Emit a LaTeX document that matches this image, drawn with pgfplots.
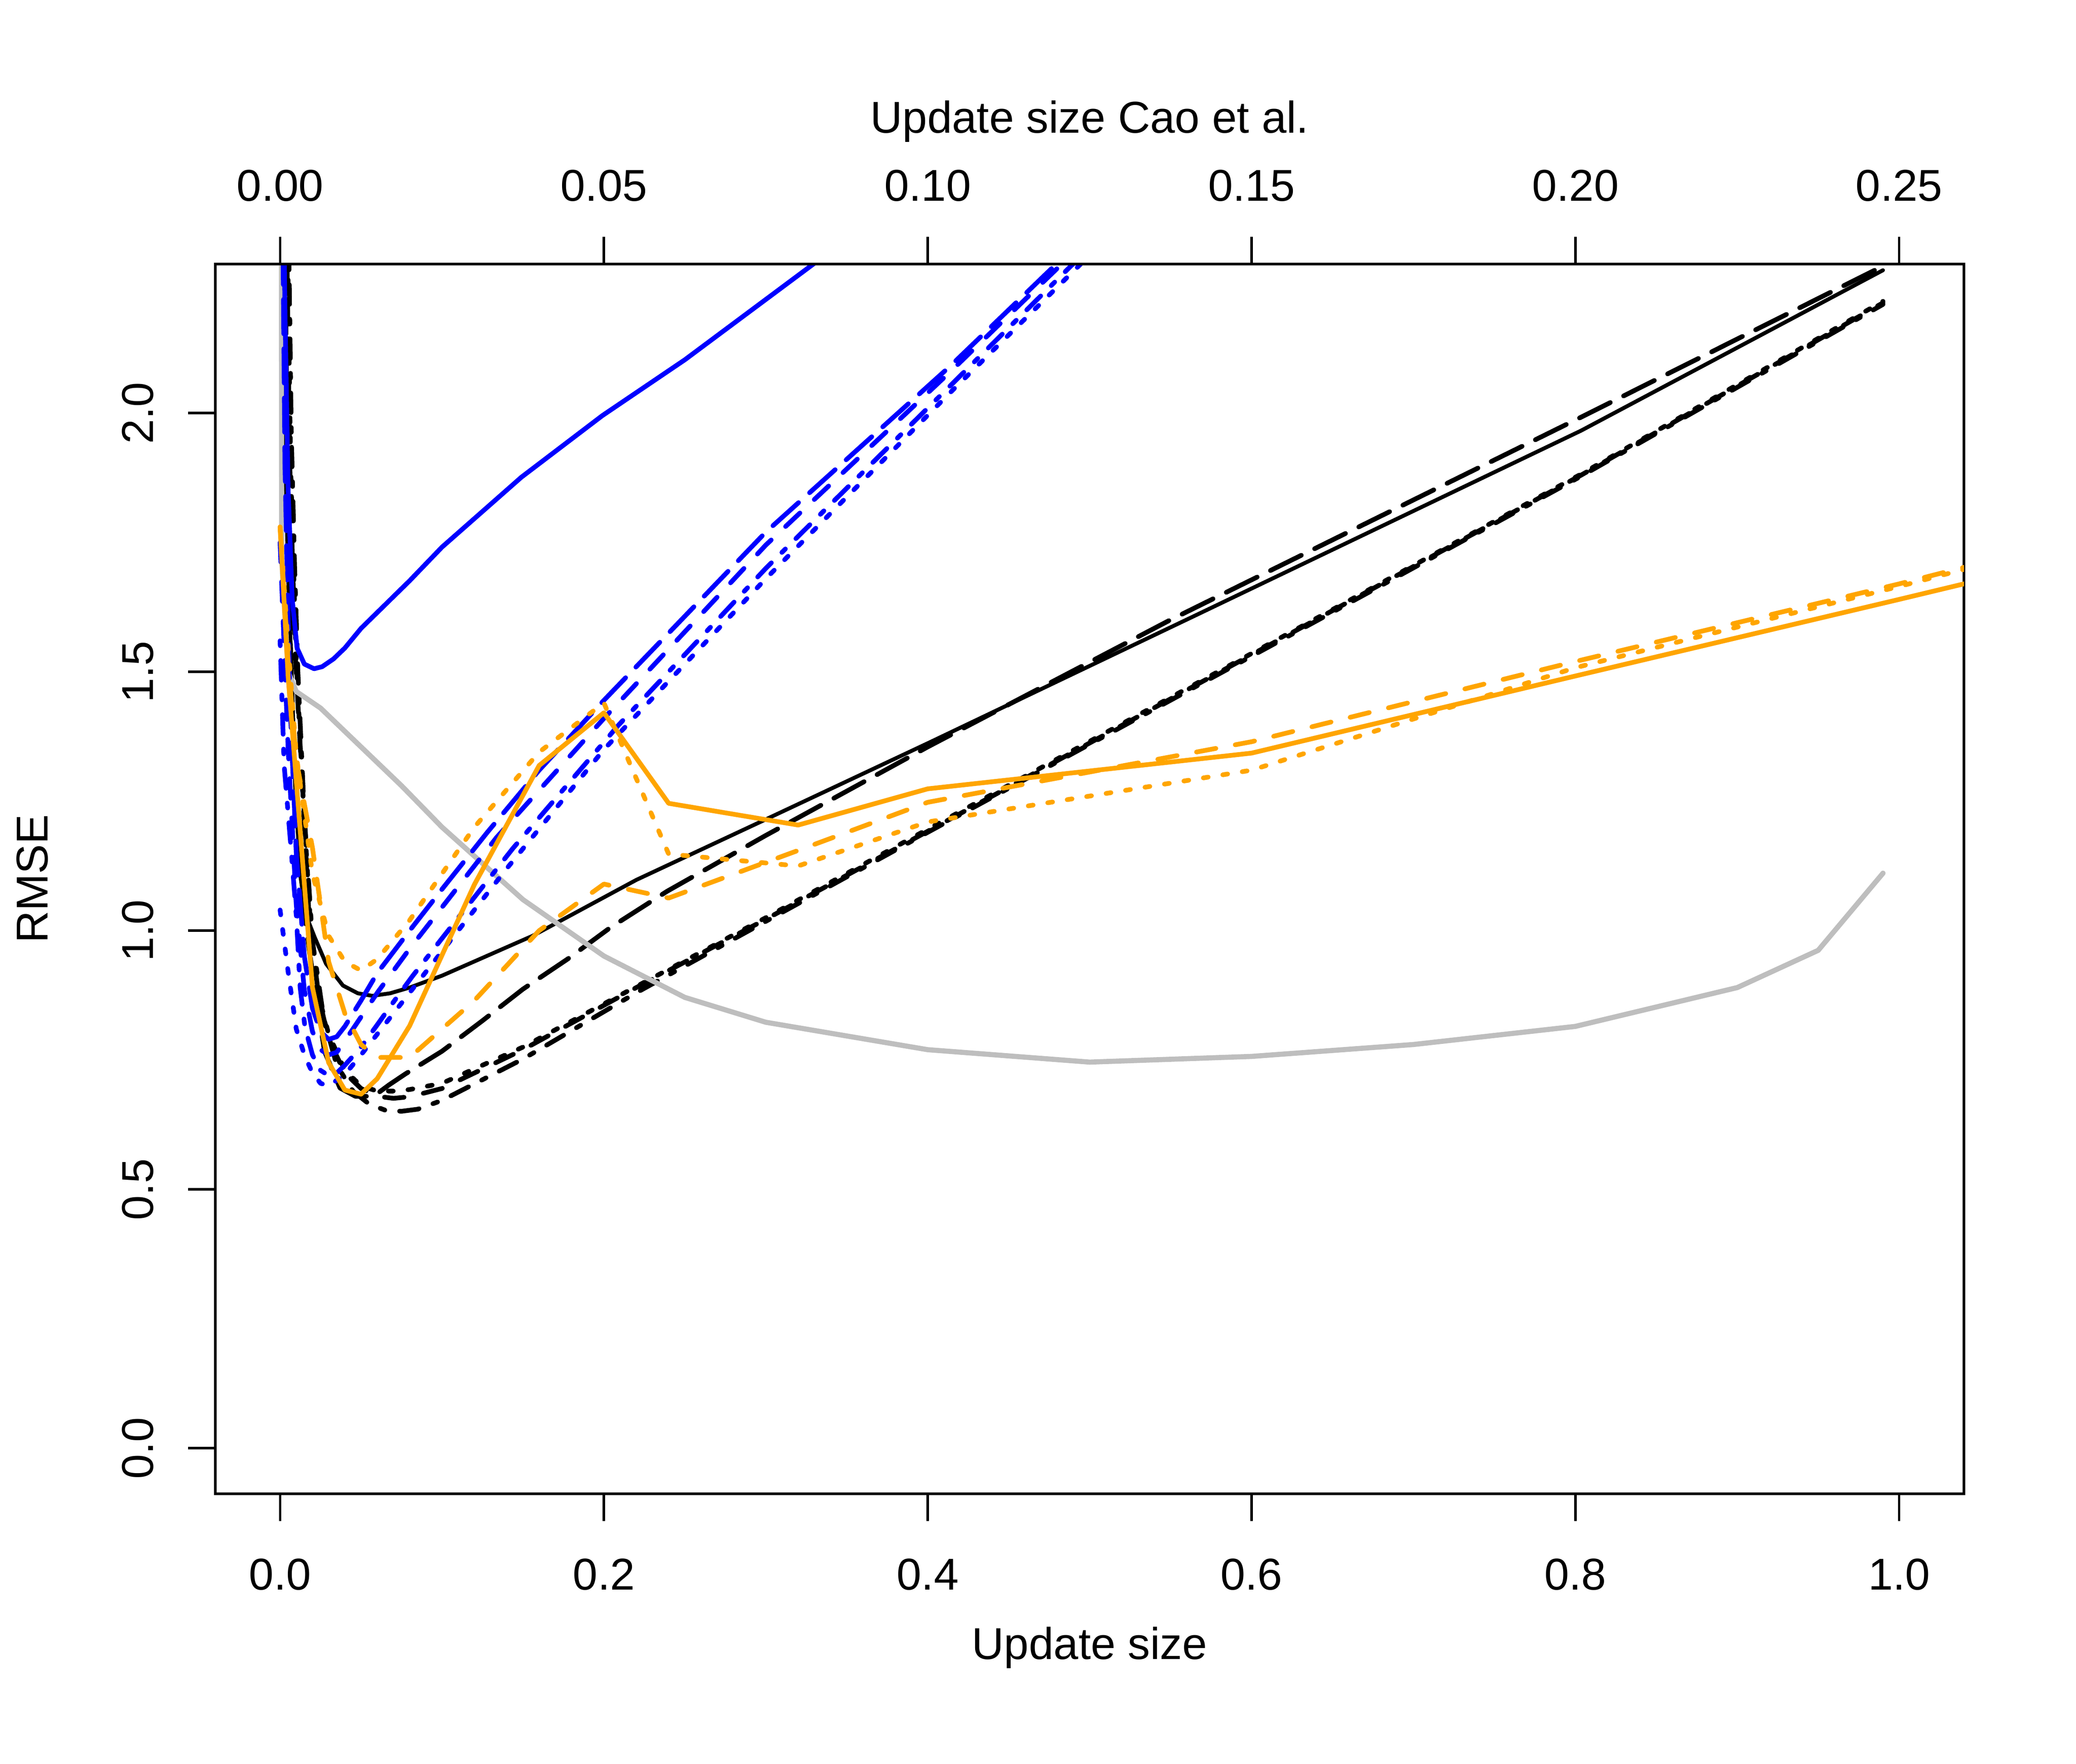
\documentclass[border=0pt]{standalone}
\usepackage{fontspec}
\setmainfont{Liberation Sans}
\usepackage{pgfplots}
\pgfplotsset{compat=1.18}
\definecolor{rorange}{HTML}{FFA500}
\definecolor{rgray}{HTML}{BEBEBE}
\definecolor{rblue}{HTML}{0000FF}
\pgfplotsset{
  lty2/.style={dash pattern=on 4.8pt off 4.8pt},
  lty3/.style={dash pattern=on 1.2pt off 3.6pt},
  lty4/.style={dash pattern=on 1.2pt off 3.6pt on 4.8pt off 3.6pt},
  lty5/.style={dash pattern=on 8.4pt off 3.6pt},
}
\newcommand{\rfont}{\fontsize{10.86}{13}\selectfont}
\begin{document}
\begin{tikzpicture}
\begin{axis}[
  name=main,
  scale only axis, width=426.11pt, height=299.74pt,
  xmin=-0.04, xmax=1.04, ymin=-0.088, ymax=2.288,
  xtick={0,0.2,0.4,0.6,0.8,1}, ytick={0,0.5,1,1.5,2},
  xtick pos=bottom, ytick pos=left,
  tick align=outside, major tick length=6.6pt,
  tick style={line width=0.6pt, black},
  axis line style={line width=0.65pt},
  /pgf/number format/assume math mode=true,
  xticklabel style={font=\rfont, anchor=base, /pgf/number format/.cd, fixed, fixed zerofill, precision=1},
  yticklabel style={font=\rfont, anchor=base, rotate=90, /pgf/number format/.cd, fixed, fixed zerofill, precision=1},
  xticklabel shift=16.8pt, yticklabel shift=8.5pt,
  no markers,
  every axis plot/.append style={line width=1.15pt, line cap=round, line join=round},
]
% black solid
\addplot[black, line width=0.95pt] coordinates {(0.0012,2.6) (0.002,2.29) (0.0033,1.9) (0.005,1.68) (0.0075,1.47) (0.0095,1.26) (0.0128,1.10) (0.016,1.03) (0.0214,0.987) (0.0284,0.936) (0.0388,0.894) (0.048,0.879) (0.057,0.874) (0.068,0.879) (0.08,0.890) (0.1,0.913) (0.156,0.990) (0.22,1.098) (0.3,1.215) (0.4,1.362) (0.566,1.61) (0.8035,1.966) (0.99,2.276)};
% black longdash
\addplot[black, lty5] coordinates {(0.0025,2.6) (0.0035,2.2) (0.005,1.8) (0.0076,1.35) (0.0128,1.091) (0.018,0.962) (0.0274,0.767) (0.037,0.696) (0.0465,0.68) (0.0578,0.68) (0.0673,0.702) (0.0773,0.723) (0.1,0.767) (0.125,0.826) (0.15,0.887) (0.178,0.946) (0.204,1.006) (0.239,1.076) (0.3,1.184) (0.4,1.355) (0.549,1.599) (0.8035,1.992) (0.99,2.284)};
% black dashed
\addplot[black, lty2] coordinates {(0.003,2.6) (0.0043,2.29) (0.006,1.9) (0.008,1.68) (0.0096,1.52) (0.0136,1.29) (0.018,1.02) (0.024,0.87) (0.03,0.79) (0.04,0.725) (0.05,0.695) (0.06,0.68) (0.07,0.676) (0.08,0.679) (0.1,0.695) (0.15,0.77) (0.22,0.89) (0.3,1.022) (0.4,1.192) (0.641,1.603) (0.8035,1.88) (0.99,2.213)};
% black dotted
\addplot[black, lty3] coordinates {(0.0035,2.6) (0.0048,2.29) (0.0065,1.9) (0.0085,1.68) (0.01,1.52) (0.014,1.27) (0.019,1.0) (0.025,0.86) (0.03,0.8) (0.04,0.73) (0.05,0.70) (0.06,0.69) (0.07,0.69) (0.08,0.693) (0.1,0.705) (0.15,0.775) (0.22,0.892) (0.3,1.025) (0.4,1.196) (0.641,1.605) (0.8035,1.882) (0.99,2.216)};
% black dotdash
\addplot[black, lty4] coordinates {(0.004,2.6) (0.0055,2.29) (0.007,1.95) (0.009,1.7) (0.011,1.5) (0.015,1.22) (0.02,0.98) (0.027,0.83) (0.035,0.74) (0.045,0.69) (0.055,0.665) (0.065,0.653) (0.075,0.651) (0.085,0.655) (0.1,0.672) (0.15,0.752) (0.22,0.88) (0.3,1.018) (0.4,1.19) (0.641,1.60) (0.8035,1.878) (0.99,2.21)};
% gray
\addplot[rgray, line width=1.25pt] coordinates {(0,5) (0.001,1.72) (0.005,1.5) (0.01,1.462) (0.025,1.43) (0.05,1.355) (0.075,1.28) (0.1,1.2) (0.15,1.06) (0.2,0.951) (0.25,0.871) (0.3,0.823) (0.4,0.77) (0.5,0.746) (0.6,0.757) (0.7,0.78) (0.8,0.815) (0.9,0.89) (0.95,0.962) (0.99,1.111)};
% blue solid
\addplot[rblue] coordinates {(0.0015,2.6) (0.003,2.2) (0.005,1.85) (0.0075,1.64) (0.0105,1.546) (0.015,1.515) (0.021,1.506) (0.026,1.51) (0.033,1.525) (0.04,1.546) (0.05,1.584) (0.08,1.676) (0.1,1.741) (0.149,1.876) (0.199,1.995) (0.25,2.103) (0.35,2.336)};
% blue longdash
\addplot[rblue, lty5] coordinates {(0.001,2.6) (0.003,1.9) (0.006,1.45) (0.01,1.15) (0.015,0.95) (0.02,0.85) (0.025,0.805) (0.03,0.79) (0.035,0.795) (0.04,0.815) (0.05,0.865) (0.06,0.918) (0.08,1.0) (0.1,1.08) (0.128,1.19) (0.16,1.31) (0.2,1.445) (0.3,1.77) (0.414,2.091) (0.5,2.35)};
% blue dashed
\addplot[rblue, lty2] coordinates {(0,1.75) (0.005,1.35) (0.01,1.05) (0.015,0.885) (0.02,0.805) (0.025,0.77) (0.03,0.76) (0.035,0.765) (0.045,0.81) (0.0605,0.882) (0.08,0.965) (0.1337,1.18) (0.2,1.41) (0.3,1.745) (0.414,2.08) (0.5,2.34)};
% blue dotdash
\addplot[rblue, lty4] coordinates {(0,1.56) (0.0025,1.32) (0.007,1.15) (0.01,1.03) (0.0124,0.89) (0.0154,0.813) (0.02,0.76) (0.025,0.73) (0.03,0.72) (0.035,0.725) (0.04,0.74) (0.05,0.775) (0.06,0.818) (0.07,0.862) (0.082,0.913) (0.1,0.985) (0.1438,1.159) (0.209,1.397) (0.3,1.70) (0.414,2.053) (0.5,2.32)};
% blue dotted
\addplot[rblue, lty3] coordinates {(0,1.04) (0.005,0.92) (0.01,0.81) (0.015,0.76) (0.02,0.725) (0.025,0.705) (0.03,0.70) (0.04,0.722) (0.05,0.76) (0.06,0.80) (0.08,0.88) (0.1,0.96) (0.14,1.12) (0.2,1.35) (0.3,1.68) (0.414,2.04) (0.5,2.305)};
% orange solid
\addplot[rorange] coordinates {(0,1.78) (0.005,1.49) (0.01,1.29) (0.02,0.89) (0.03,0.745) (0.04,0.692) (0.05,0.684) (0.06,0.714) (0.08,0.816) (0.12,1.089) (0.16,1.319) (0.2,1.421) (0.24,1.246) (0.32,1.204) (0.4,1.274) (0.6,1.343) (0.8,1.492) (1.0,1.64) (1.2,1.79)};
% orange dashed
\addplot[rorange, lty2] coordinates {(0,1.78) (0.005,1.52) (0.01,1.33) (0.02,1.16) (0.03,0.94) (0.04,0.84) (0.05,0.78) (0.06,0.755) (0.08,0.755) (0.12,0.865) (0.16,1.0) (0.2,1.09) (0.24,1.063) (0.32,1.155) (0.4,1.248) (0.6,1.365) (0.8,1.52) (1.0,1.67) (1.2,1.83)};
% orange dotted
\addplot[rorange, lty3] coordinates {(0,1.78) (0.005,1.55) (0.01,1.34) (0.02,1.11) (0.03,0.99) (0.04,0.94) (0.05,0.923) (0.06,0.945) (0.08,1.02) (0.12,1.2) (0.16,1.345) (0.2,1.44) (0.24,1.148) (0.32,1.125) (0.4,1.21) (0.6,1.31) (0.8,1.508) (1.0,1.665) (1.2,1.83)};
\end{axis}
\begin{axis}[
  scale only axis, width=426.11pt, height=299.74pt,
  xmin=-0.01, xmax=0.26, ymin=-0.088, ymax=2.288,
  axis x line*=top, hide y axis,
  axis line style={-, line width=0.65pt},
  xtick={0,0.05,0.1,0.15,0.2,0.25},
  tick align=outside, major tick length=6.6pt,
  tick style={line width=0.6pt, black},
  /pgf/number format/assume math mode=true,
  xticklabel style={font=\rfont, anchor=base, /pgf/number format/.cd, fixed, fixed zerofill, precision=2},
  xticklabel shift=8.8pt,
]
\end{axis}
\node[font=\rfont, anchor=base] at ([yshift=-40.37pt]main.south) {Update size};
\node[font=\rfont, anchor=base] at ([yshift=32.0pt]main.north) {Update size Cao et al.};
\node[font=\rfont, anchor=base, rotate=90] at ([xshift=-40.9pt]main.west) {RMSE};
\pgfresetboundingbox
\path[use as bounding box] ([xshift=-52.47pt,yshift=-65.86pt]main.south west) rectangle ([xshift=27.31pt,yshift=64.36pt]main.north east);
\end{tikzpicture}
\end{document}
